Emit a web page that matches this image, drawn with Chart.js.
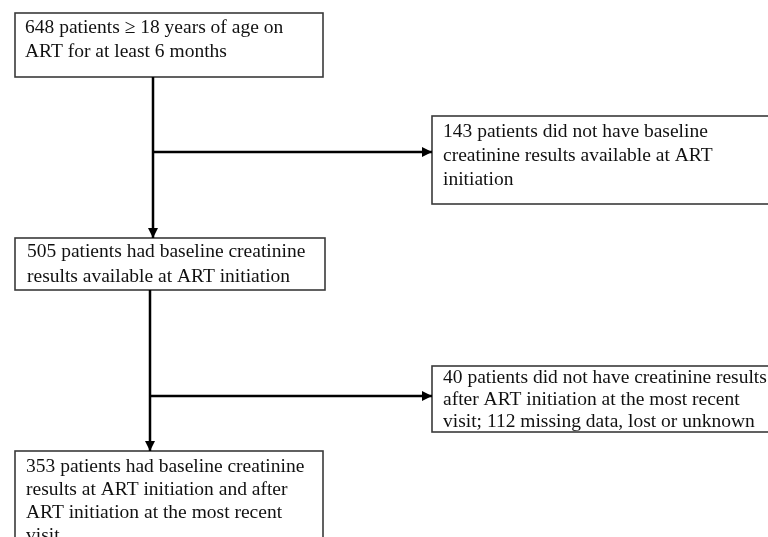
<!DOCTYPE html>
<html>
<head>
<meta charset="utf-8">
<script src="https://cdn.jsdelivr.net/npm/chart.js@4.4.1/dist/chart.umd.min.js"></script>
<style>
  html, body { margin: 0; padding: 0; background: #fff; }
  #wrap { width: 768px; height: 537px; position: relative; }
</style>
</head>
<body>
<div id="wrap"><canvas id="flow"></canvas></div>
<script>
// patient counts at each step of the flow
const keptCounts = [648, 505, 353];
const excludedCounts = [143, 40];
const missingCount = 112;

// text of each box, built from the counts
const boxLines = [
  [keptCounts[0] + " patients \u2265 18 years of age on", "ART for at least 6 months"],
  [excludedCounts[0] + " patients did not have baseline", "creatinine results available at ART", "initiation"],
  [keptCounts[1] + " patients had baseline creatinine", "results available at ART initiation"],
  [excludedCounts[1] + " patients did not have creatinine results", "after ART initiation at the most recent", "visit; " + missingCount + " missing data, lost or unknown"],
  [keptCounts[2] + " patients had baseline creatinine", "results at ART initiation and after", "ART initiation at the most recent", "visit"]
];

// layout, in scale units (x: 0-768, y: 0-537 top down); tx/ty = first text baseline offset
const boxes = [
  { x0: 15, y0: 13, x1: 323, y1: 77, tx: 10, ty: 20, lh: 24 },
  { x0: 432, y0: 116, x1: 775, y1: 204, tx: 11, ty: 21, lh: 24 },
  { x0: 15, y0: 238, x1: 325, y1: 290, tx: 12, ty: 19, lh: 25 },
  { x0: 432, y0: 366, x1: 775, y1: 432, tx: 11, ty: 17, lh: 22 },
  { x0: 15, y0: 451, x1: 323, y1: 560, tx: 11, ty: 21, lh: 23 }
];
const connectors = [
  [{ x: 153, y: 77 }, { x: 153, y: 238 }],
  [{ x: 153, y: 152 }, { x: 432, y: 152 }],
  [{ x: 150, y: 290 }, { x: 150, y: 451 }],
  [{ x: 150, y: 396 }, { x: 432, y: 396 }]
];

// draws the boxes with their text, and arrow heads on the connectors
const flowPlugin = {
  id: "flowBoxes",
  beforeDatasetsDraw(chart) {
    const ctx = chart.ctx;
    const sx = chart.scales.x, sy = chart.scales.y;
    ctx.save();
    boxes.forEach(function(b, i) {
      const l = sx.getPixelForValue(b.x0), r = sx.getPixelForValue(b.x1);
      const t = sy.getPixelForValue(b.y0), bt = sy.getPixelForValue(b.y1);
      ctx.fillStyle = "#fff";
      ctx.fillRect(l, t, r - l, bt - t);
      ctx.strokeStyle = "#3a3a3a";
      ctx.lineWidth = 1.6;
      ctx.strokeRect(l, t, r - l, bt - t);
      ctx.fillStyle = "#111";
      ctx.font = "19.5px 'Liberation Serif', 'Times New Roman', serif";
      ctx.textBaseline = "alphabetic";
      boxLines[i].forEach(function(line, k) {
        ctx.fillText(line, l + b.tx, t + b.ty + k * b.lh);
      });
    });
    ctx.restore();
  },
  afterDatasetsDraw(chart) {
    const ctx = chart.ctx;
    ctx.save();
    ctx.fillStyle = "#000";
    chart.data.datasets.forEach(function(ds, i) {
      const pts = chart.getDatasetMeta(i).data;
      const a = pts[pts.length - 2], b = pts[pts.length - 1];
      const ang = Math.atan2(b.y - a.y, b.x - a.x);
      ctx.save();
      ctx.translate(b.x, b.y);
      ctx.rotate(ang);
      ctx.beginPath();
      ctx.moveTo(0, 0);
      ctx.lineTo(-10, -5);
      ctx.lineTo(-10, 5);
      ctx.closePath();
      ctx.fill();
      ctx.restore();
    });
    ctx.restore();
  }
};

new Chart(document.getElementById("flow"), {
  type: "scatter",
  data: {
    datasets: connectors.map(function(c) {
      return {
        data: c,
        showLine: true,
        borderColor: "#000",
        borderWidth: 2.5,
        pointRadius: 0,
        pointHoverRadius: 0
      };
    })
  },
  options: {
    responsive: true,
    maintainAspectRatio: false,
    animation: false,
    layout: { padding: 0 },
    plugins: { legend: { display: false }, tooltip: { enabled: false } },
    events: [],
    scales: {
      x: { type: "linear", min: 0, max: 768, display: false },
      y: { type: "linear", min: 0, max: 537, reverse: true, display: false }
    }
  },
  plugins: [flowPlugin]
});
</script>
</body>
</html>
